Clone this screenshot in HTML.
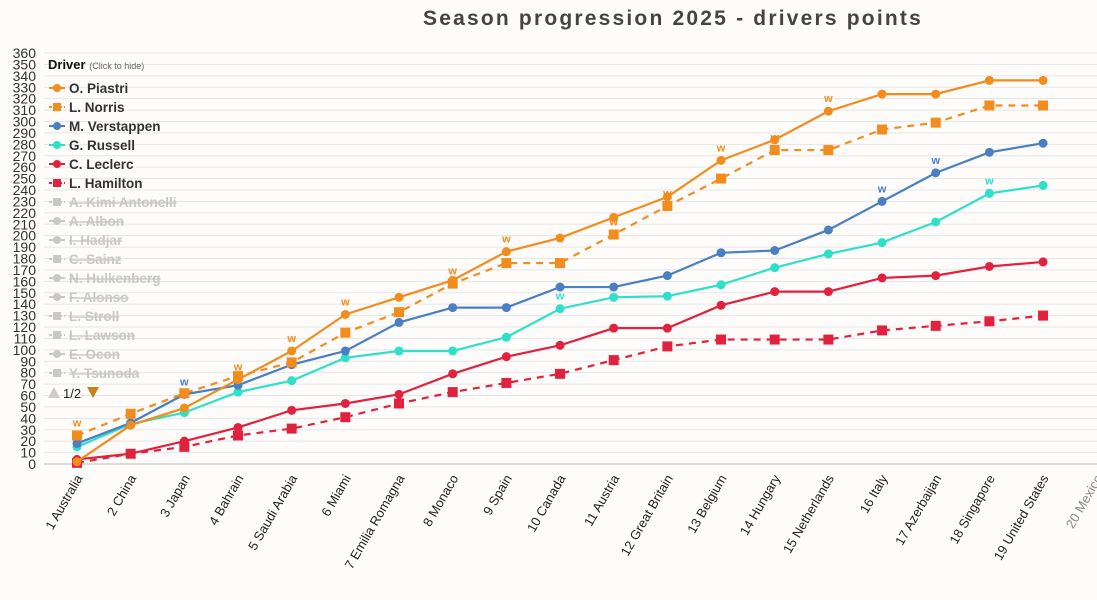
<!DOCTYPE html>
<html><head><meta charset="utf-8">
<style>
html,body{margin:0;padding:0;background:#fdfcfb;width:1097px;height:600px;overflow:hidden;font-family:"Liberation Sans",sans-serif;}
svg{display:block}
</style></head>
<body>
<svg id="chart" width="1097" height="600">
<text x="673" y="25" text-anchor="middle" font-size="21" font-weight="bold" fill="#444" letter-spacing="2.2">Season progression 2025 - drivers points</text>
<g id="grid"></g><g id="xaxis"></g><g id="series"></g><g id="legend"></g>
</svg>
<script>
const races = ["1 Australia","2 China","3 Japan","4 Bahrain","5 Saudi Arabia","6 Miami","7 Emilia Romagna","8 Monaco","9 Spain","10 Canada","11 Austria","12 Great Britain","13 Belgium","14 Hungary","15 Netherlands","16 Italy","17 Azerbaijan","18 Singapore","19 United States","20 Mexico"];
const yTicks = [0,10,20,30,40,50,60,70,80,90,100,110,120,130,140,150,160,170,180,190,200,210,220,230,240,250,260,270,280,290,300,310,320,330,340,350,360];
const piastri = [2,34,49,74,99,131,146,161,186,198,216,234,266,284,309,324,324,336,336];
const norris = [25,44,62,77,89,115,133,158,176,176,201,226,250,275,275,293,299,314,314];
const verstappen = [18,36,61,69,87,99,124,137,137,155,155,165,185,187,205,230,255,273,281];
const russell = [15,35,45,63,73,93,99,99,111,136,146,147,157,172,184,194,212,237,244];
const leclerc = [4,9,20,32,47,53,61,79,94,104,119,119,139,151,151,163,165,173,177];
const hamilton = [1,9,15,25,31,41,53,63,71,79,91,103,109,109,109,117,121,125,130];
const winners = ["norris","","verstappen","piastri","piastri","piastri","verstappen","norris","piastri","russell","norris","norris","piastri","norris","piastri","verstappen","verstappen","russell",""];
const legendNames = ["O. Piastri","L. Norris","M. Verstappen","G. Russell","C. Leclerc","L. Hamilton","A. Kimi Antonelli","A. Albon","I. Hadjar","C. Sainz","N. Hulkenberg","F. Alonso","L. Stroll","L. Lawson","E. Ocon","Y. Tsunoda"];
const hiddenShapes = ["square","circle","circle","square","circle","circle","square","square","circle","square"];

const NS="http://www.w3.org/2000/svg";
const X=i=>77+i*53.67;
const Y=v=>464-v*411/360;
function mk(tag,attrs,parent){const e=document.createElementNS(NS,tag);for(const k in attrs)e.setAttribute(k,attrs[k]);parent.appendChild(e);return e;}
const grid=document.getElementById('grid');
yTicks.forEach(t=>{
  if(t>0){const l=mk('line',{x1:44,x2:1097,y1:Y(t),y2:Y(t),stroke:'#e6e6e6','stroke-width':1},grid);
  
  }
  const tx=mk('text',{x:36,y:Y(t)+5,'text-anchor':'end','font-size':14,fill:'#333'},grid);
  
  
  tx.textContent=t;
});
const ax=mk('line',{x1:44,x2:1097,y1:Y(0),y2:Y(0),stroke:'#bbb','stroke-width':1},grid);


const xa=document.getElementById('xaxis');
races.forEach((r,i)=>{
  const t=mk('text',{x:X(i)+6,y:478,'text-anchor':'end','font-size':13,fill:i==19?'#888':'#222',transform:`rotate(-60 ${X(i)+6} 478)`},xa);
  
  
  t.textContent=r;
});
const series=[
 {key:'hamilton',d:hamilton,c:'#e0223f',dash:'7,6',shape:'square'},
 {key:'leclerc',d:leclerc,c:'#e0223f',dash:'',shape:'circle'},
 {key:'russell',d:russell,c:'#2ee0c8',dash:'',shape:'circle'},
 {key:'verstappen',d:verstappen,c:'#4a7fc1',dash:'',shape:'circle'},
 {key:'norris',d:norris,c:'#f28c1c',dash:'7,6',shape:'square'},
 {key:'piastri',d:piastri,c:'#f28c1c',dash:'',shape:'circle'}];
const sg=document.getElementById('series');
series.forEach(s=>{
  const g=mk('g',{},sg);
  
  
  const p=mk('polyline',{points:s.d.map((v,i)=>X(i)+','+Y(v)).join(' '),fill:'none',stroke:s.c,'stroke-width':2.2,'stroke-dasharray':s.dash},g);
  
  
  s.d.forEach((v,i)=>{
    let m;
    if(s.shape=='square')m=mk('rect',{x:X(i)-5,y:Y(v)-5,width:10,height:10,fill:s.c},g);
    else m=mk('circle',{cx:X(i),cy:Y(v),r:4.5,fill:s.c},g);
    
    
    if(winners[i]===s.key){
      const w=mk('text',{x:X(i),y:Y(v)-9,'text-anchor':'middle','font-size':11,'font-weight':'bold',fill:s.c},g);
      
      
      w.textContent='w';
    }
  });
});
const lg=document.getElementById('legend');
const lt=mk('text',{x:48,y:69,'font-size':13,'font-weight':'bold',fill:'#111'},lg);


lt.innerHTML='Driver <tspan font-size="9" font-weight="normal" fill="#666">(Click to hide)</tspan>';
const legStyle=[['#f28c1c','circle',''],['#f28c1c','square','d'],['#4a7fc1','circle',''],['#2ee0c8','circle',''],['#e0223f','circle',''],['#e0223f','square','d']];
legendNames.forEach((n,i)=>{
  const y=88+i*19;
  const g=mk('g',{},lg);
  
  
  const on=i<6;
  const col=on?legStyle[i][0]:'#c8c8c8';
  const shape=on?legStyle[i][1]:hiddenShapes[i-6];
  mk('line',{x1:49,x2:65,y1:y,y2:y,stroke:col,'stroke-width':2,'stroke-dasharray':(on&&legStyle[i][2])||(!on&&shape=='square')?'3,2':''},g);
  if(shape=='square')mk('rect',{x:53,y:y-4,width:8,height:8,fill:col},g);
  else mk('circle',{cx:57,cy:y,r:4,fill:col},g);
  const t=mk('text',{x:69,y:y+5,'font-size':13.5,'font-weight':'bold',fill:on?'#333':'#c8c8c8','text-decoration':on?'none':'line-through'},g);
  t.textContent=n;
});
const pg=mk('g',{},lg);


mk('polygon',{points:'48,398 60,398 54,387',fill:'#ccc'},pg);
const pt=mk('text',{x:63,y:398,'font-size':13,fill:'#222'},pg);
pt.textContent='1/2';
mk('polygon',{points:'87,387 99,387 93,398',fill:'#c8801c'},pg);
</script>
</body></html>
